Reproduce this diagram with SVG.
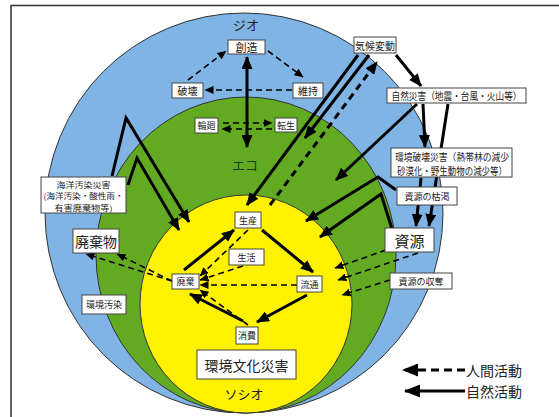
<svg xmlns="http://www.w3.org/2000/svg" width="559" height="417" viewBox="0 0 559 417">
<style>
text{font-family:"Noto Sans CJK JP","Noto Sans",sans-serif;fill:#222;text-anchor:middle;dominant-baseline:central}
.box rect{fill:#fff;stroke:#444;stroke-width:1}
.s{font-size:10px}
.xs{font-size:9px}
.xxs{font-size:8px}
.l{font-size:15px}
.thick{fill:none;stroke:#000;stroke-width:3}
.td{fill:none;stroke:#000;stroke-width:3;stroke-dasharray:7 5}
.thin{fill:none;stroke:#000;stroke-width:1.6;stroke-dasharray:6 4}
</style>
<defs>
<marker id="a" markerUnits="userSpaceOnUse" markerWidth="13" markerHeight="11" refX="12" refY="5.5" orient="auto-start-reverse"><path d="M0,0 L13,5.5 L0,11 z" fill="#000"/></marker>
<marker id="b" markerUnits="userSpaceOnUse" markerWidth="9" markerHeight="8" refX="8.5" refY="4" orient="auto-start-reverse"><path d="M0,0 L9,4 L0,8 z" fill="#000"/></marker>
<marker id="c" markerUnits="userSpaceOnUse" markerWidth="16" markerHeight="13" refX="15" refY="6.5" orient="auto"><path d="M0,0 L16,6.5 L0,13 z" fill="#000"/></marker>
</defs>
<rect x="0" y="0" width="559" height="417" fill="#fff"/>
<path d="M11,417 V5.5 H559" fill="none" stroke="#333" stroke-width="1.5"/>
<g id="rings">
<ellipse cx="244" cy="213" rx="199" ry="200" fill="#7fb4e4" stroke="#333" stroke-width="1"/>
<ellipse cx="246" cy="255" rx="150" ry="158" fill="#62aa22" stroke="#333" stroke-width="1"/>
<ellipse cx="246" cy="304" rx="106" ry="109" fill="#fff200" stroke="#333" stroke-width="1"/>
<text x="246" y="24" style="font-size:13px">ジオ</text>
<text x="245" y="164" style="font-size:13px;fill:#1c3d0a">エコ</text>
<text x="244" y="393" style="font-size:13px">ソシオ</text>
</g>
<g id="connectors">
<path class="thin" d="M188,80 L226,51" marker-end="url(#b)"/>
<path class="thin" d="M268,51 L303,77" marker-end="url(#b)"/>
<path class="thin" d="M292,90 L205,90" marker-end="url(#b)"/>
<path class="thin" d="M223,123 L272,123" marker-end="url(#b)"/>
<path class="thin" d="M272,129 L222,129" marker-end="url(#b)"/>
<path class="thick" d="M247,57 L247,147" marker-start="url(#a)" marker-end="url(#a)"/>
<path class="thick" d="M358,55 L247,205" marker-end="url(#a)"/>
<path class="thick" d="M369,55 L305,138" marker-end="url(#a)"/>
<path class="td" d="M270,205 L377,62" marker-end="url(#a)"/>
<path class="thick" d="M396,55 L421,86" marker-end="url(#a)"/>
<path class="thick" d="M423,104 L425,147" marker-end="url(#a)"/>
<path class="thick" d="M448,104 L429,226" marker-end="url(#a)"/>
<path class="thick" d="M421,178 L416,226" marker-end="url(#a)"/>
<path class="thick" d="M417,104 L336,180" marker-end="url(#a)"/>
<path class="thick" d="M396,190 L378,177 L306,221" marker-end="url(#a)"/>
<path class="thick" d="M392,229 L381,194 L320,237" marker-end="url(#a)"/>
<path class="thick" d="M112,176 L126,118 L189,222" marker-end="url(#a)"/>
<path class="thick" d="M128,185 L137,158 L179,230" marker-end="url(#a)"/>
<path class="thick" d="M184,270 L234,230" marker-end="url(#a)"/>
<path class="thick" d="M262,230 L313,272" marker-end="url(#a)"/>
<path class="thick" d="M307,295 L257,322" marker-end="url(#a)"/>
<path class="thick" d="M243,321 L190,294" marker-end="url(#a)"/>
<path class="thin" d="M248,230 L200,276" marker-end="url(#b)"/>
<path class="thin" d="M243,266 L200,280" marker-end="url(#b)"/>
<path class="thin" d="M297,285 L200,285" marker-end="url(#b)"/>
<path class="thin" d="M248,325 L200,290" marker-end="url(#b)"/>
<path class="thin" d="M172,281 L86,254" marker-end="url(#b)"/>
<path class="thin" d="M172,281 L117,254" marker-end="url(#b)"/>
<path class="thin" d="M386,250 L335,268" marker-end="url(#b)"/>
<path class="thin" d="M418,253 L338,280" marker-end="url(#b)"/>
<path class="thin" d="M390,280 L342,295" marker-end="url(#b)"/>
<path d="M465,370 L403,370" fill="none" stroke="#000" stroke-width="3" stroke-dasharray="8 5" marker-end="url(#c)"/>
<path d="M465,391 L405,391" fill="none" stroke="#000" stroke-width="3" marker-end="url(#c)"/>
</g>
<g id="n-souzou" class="box"><rect x="228" y="40" width="37" height="14"/><text style="font-size:11px" x="246.5" y="47">創造</text></g>
<g id="n-hakai" class="box"><rect x="172" y="83" width="31" height="15"/><text class="s" x="187.5" y="90.5">破壊</text></g>
<g id="n-iji" class="box"><rect x="293" y="83" width="30" height="15"/><text class="s" x="308" y="90.5">維持</text></g>
<g id="n-rinne" class="box"><rect x="195" y="118" width="23" height="15"/><text class="xs" x="206.5" y="125.5">輪廻</text></g>
<g id="n-tensei" class="box"><rect x="275" y="118" width="22" height="14"/><text class="xs" x="286" y="125">転生</text></g>
<g id="n-kikou" class="box"><rect x="354" y="37" width="42" height="16"/><text class="s" x="375" y="45">気候変動</text></g>
<g id="n-shizen" class="box"><rect x="387" y="88" width="139" height="15"/><text class="s" x="456.5" y="95.5" textLength="130" lengthAdjust="spacingAndGlyphs">自然災害（地震・台風・火山等）</text></g>
<g id="n-kankyohakai" class="box"><rect x="391" y="148" width="121" height="29"/><text class="s" x="452" y="156" textLength="114" lengthAdjust="spacingAndGlyphs">環境破壊災害（熱帯林の減少</text><text class="s" x="452" y="170" textLength="110" lengthAdjust="spacingAndGlyphs">砂漠化・野生動物の減少等）</text></g>
<g id="n-koketsu" class="box"><rect x="397" y="187" width="60" height="18"/><text class="xs" x="427" y="196">資源の枯渇</text></g>
<g id="n-shigen" class="box"><rect x="385" y="228" width="49" height="24"/><text class="l" x="409.5" y="240">資源</text></g>
<g id="n-shudatsu" class="box"><rect x="390" y="273" width="62" height="16"/><text class="xs" x="421" y="281">資源の収奪</text></g>
<g id="n-kaiyou" class="box"><rect x="41" y="177" width="85" height="36"/><text class="xxs" x="83.5" y="184" textLength="54" lengthAdjust="spacingAndGlyphs">海洋汚染災害</text><text class="xxs" x="83.5" y="195.5" textLength="80" lengthAdjust="spacingAndGlyphs">(海洋汚染・酸性雨・</text><text class="xxs" x="83.5" y="207" textLength="58" lengthAdjust="spacingAndGlyphs">有害廃棄物等)</text></g>
<g id="n-haikibutsu" class="box"><rect x="73" y="229" width="46" height="24"/><text style="font-size:14px" x="96" y="241">廃棄物</text></g>
<g id="n-osen" class="box"><rect x="82" y="295" width="44" height="19"/><text class="xs" x="104" y="304.5">環境汚染</text></g>
<g id="n-seisan" class="box"><rect x="235" y="212" width="26" height="16"/><text class="xs" x="248" y="220">生産</text></g>
<g id="n-seikatsu" class="box"><rect x="229" y="249" width="35" height="16"/><text class="xs" x="246.5" y="257">生活</text></g>
<g id="n-haiki" class="box"><rect x="172" y="274" width="27" height="15"/><text class="xs" x="185.5" y="281.5">廃棄</text></g>
<g id="n-ryutsu" class="box"><rect x="297" y="276" width="25" height="16"/><text class="xs" x="309.5" y="284">流通</text></g>
<g id="n-shohi" class="box"><rect x="236" y="327" width="22" height="17"/><text class="xs" x="247" y="335.5">消費</text></g>
<g id="n-bunka" class="box"><rect x="197" y="350" width="99" height="29"/><text style="font-size:14px" x="246.5" y="364.5">環境文化災害</text></g>
<g id="legend">
<text x="494" y="370" style="font-size:14px">人間活動</text>
<text x="494" y="391" style="font-size:14px">自然活動</text>
</g>
</svg>
